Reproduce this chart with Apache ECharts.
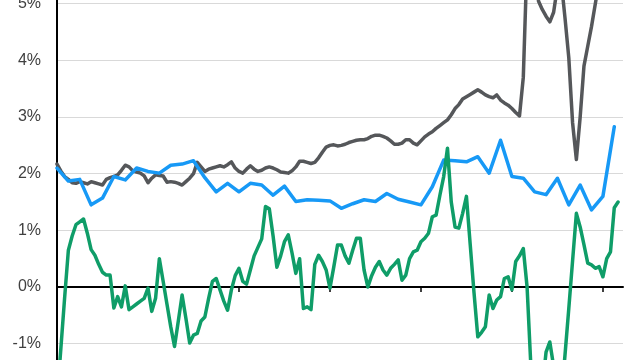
<!DOCTYPE html>
<html>
<head>
<meta charset="utf-8">
<script src="https://cdn.jsdelivr.net/npm/echarts@6/dist/echarts.min.js"></script>
<style>
html,body{margin:0;padding:0;background:#ffffff;}
#chart{width:640px;height:360px;}
</style>
</head>
<body>
<div id="chart"></div>
<script>
// Monthly series (index = month from start), values in %
const grayMonthly = [
  2.17, 2.05, 1.95, 1.9, 1.84, 1.83, 1.86, 1.84, 1.82, 1.86, 1.84, 1.82, 1.8, 1.9, 1.93, 1.95,
  1.98, 2.06, 2.15, 2.12, 2.05, 2.03, 2.01, 1.96, 1.84, 1.92, 1.98, 1.97, 1.96, 1.85, 1.86, 1.85,
  1.83, 1.8, 1.86, 1.92, 2.0, 2.2, 2.12, 2.04, 2.08, 2.1, 2.12, 2.14, 2.12, 2.16, 2.21, 2.1,
  2.04, 2.01, 2.08, 2.14, 2.08, 2.04, 2.06, 2.1, 2.12, 2.1, 2.07, 2.03, 2.02, 2.01, 2.05, 2.12,
  2.22, 2.22, 2.2, 2.18, 2.2, 2.28, 2.38, 2.47, 2.5, 2.51, 2.49, 2.5, 2.52, 2.55, 2.57, 2.59,
  2.6, 2.6, 2.62, 2.66, 2.68, 2.68, 2.66, 2.63, 2.58, 2.52, 2.52, 2.54, 2.6, 2.6, 2.54, 2.51,
  2.58, 2.65, 2.7, 2.74, 2.8, 2.85, 2.9, 2.95, 3.04, 3.15, 3.22, 3.32, 3.36, 3.4, 3.44, 3.48,
  3.44, 3.39, 3.36, 3.34, 3.39, 3.3, 3.25, 3.21, 3.15, 3.08, 3.02, 3.7, 5.8, 6.8, 6.3, 5.05,
  4.9, 4.78, 4.68, 4.85, 5.3, 5.4, 4.75, 4.05, 2.9, 2.25, 3.0, 3.9, 4.25, 4.6, 5.0, 5.4
];
// Quarterly series (one value every 3 months)
const blueQuarterly = [
  2.1, 1.87, 1.9, 1.45, 1.57, 1.95, 1.89, 2.1, 2.04, 2.01, 2.15, 2.17, 2.23, 1.93, 1.68, 1.83,
  1.68, 1.83, 1.8, 1.62, 1.78, 1.51, 1.54, 1.53, 1.52, 1.39, 1.47, 1.54, 1.51, 1.65, 1.55, 1.5,
  1.45, 1.77, 2.24, 2.23, 2.21, 2.3, 2.01, 2.59, 1.95, 1.92, 1.68, 1.63, 1.92, 1.45, 1.8, 1.36,
  1.6, 2.83
];
const greenMonthly = [
  -2.0, -1.1, -0.2, 0.65, 0.9, 1.1, 1.15, 1.2, 0.95, 0.66, 0.56, 0.4, 0.26, 0.21, 0.21, -0.37,
  -0.17, -0.35, 0.02, -0.4, -0.35, -0.3, -0.25, -0.2, -0.02, -0.43, -0.2, 0.5, 0.1, -0.3, -0.7, -1.05,
  -0.6, -0.14, -0.55, -0.99, -0.85, -0.82, -0.6, -0.53, -0.2, 0.1, 0.15, -0.05, -0.25, -0.41, -0.05, 0.2,
  0.33, 0.1, 0.05, 0.3, 0.55, 0.7, 0.85, 1.42, 1.38, 0.9, 0.35, 0.55, 0.8, 0.92, 0.6, 0.24,
  0.5, -0.38, -0.35, -0.4, 0.4, 0.56, 0.45, 0.3, -0.02, 0.35, 0.74, 0.74, 0.55, 0.42, 0.65, 0.86,
  0.86, 0.3, 0.0, 0.2, 0.35, 0.45, 0.3, 0.21, 0.33, 0.4, 0.48, 0.12, 0.21, 0.5, 0.62, 0.65,
  0.8, 0.86, 0.95, 1.24, 1.27, 1.62, 1.95, 2.45, 1.5, 1.06, 1.04, 1.3, 1.6, 0.75, -0.1, -0.88,
  -0.8, -0.7, -0.14, -0.38, -0.23, -0.17, 0.15, 0.18, -0.05, 0.45, 0.55, 0.68, 0.0, -1.4, -2.0, -2.3,
  -1.8, -1.15, -0.97, -1.4, -2.0, -2.0, -1.2, -0.38, 0.46, 1.3, 1.06, 0.75, 0.42, 0.39, 0.33, 0.36,
  0.18, 0.5, 0.62, 1.4, 1.5
];
// Axis ticks
const xTickMonths = [0, 24, 48, 72, 96, 120, 144];
const xMaxMonth = 149.3;
const yMin = -2, yMax = 6, yStep = 1;

const monthsPerQuarter = 3;
const grayData = grayMonthly.map((v, i) => [i, v]);
const blueData = blueQuarterly.map((v, q) => [q * monthsPerQuarter, v]);
const greenData = greenMonthly.map((v, i) => [i, v]);

const chart = echarts.init(document.getElementById('chart'), null, {renderer: 'canvas'});
const lineSeries = (name, data, color, z) => ({
  name, type: 'line', data, symbol: 'none', showSymbol: false, z,
  lineStyle: {color, width: 3.5, join: 'round', cap: 'round'},
  itemStyle: {color},
  emphasis: {disabled: true}
});
chart.setOption({
  animation: false,
  backgroundColor: '#ffffff',
  grid: {left: 57, right: 17, top: -52.9, bottom: -40.3, containLabel: false, outerBoundsMode: 'none'},
  xAxis: {
    type: 'value', min: 0, max: xMaxMonth,
    axisLine: {onZero: true, lineStyle: {color: '#000000', width: 2}},
    axisTick: {show: true, length: 5, customValues: xTickMonths, lineStyle: {color: '#000000', width: 1.5}},
    axisLabel: {show: false},
    splitLine: {show: false}
  },
  yAxis: {
    type: 'value', min: yMin, max: yMax, interval: yStep,
    axisLine: {show: true, lineStyle: {color: '#000000', width: 2}},
    axisTick: {show: false},
    axisLabel: {formatter: '{value}%', fontSize: 16, color: '#404040', fontFamily: 'Liberation Sans, Arial, sans-serif', margin: 16},
    splitLine: {show: true, lineStyle: {color: '#d9d9d9', width: 1}}
  },
  series: [
    lineSeries('gray', grayData, '#55575a', 2),
    lineSeries('blue', blueData, '#1799f6', 3),
    lineSeries('green', greenData, '#0f9d68', 4)
  ]
});
</script>
</body>
</html>
